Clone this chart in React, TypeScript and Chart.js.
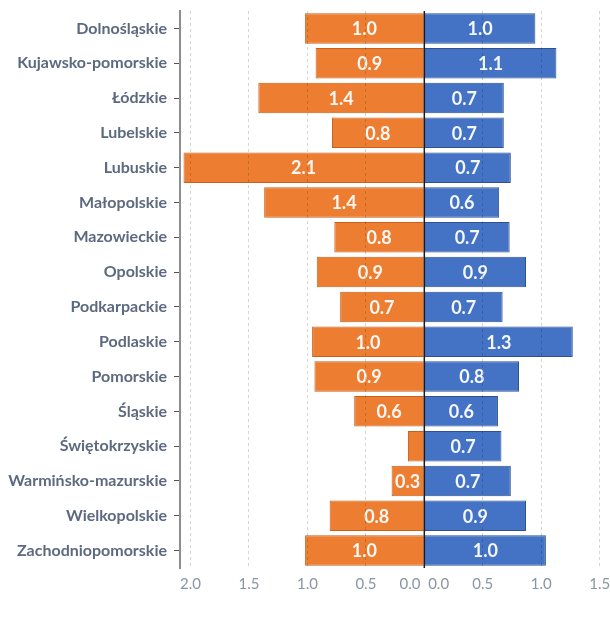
import React, { useEffect, useRef } from 'react';
import { Chart, registerables } from 'chart.js';

Chart.register(...registerables);

const categories = [
  'Dolnośląskie',
  'Kujawsko-pomorskie',
  'Łódzkie',
  'Lubelskie',
  'Lubuskie',
  'Małopolskie',
  'Mazowieckie',
  'Opolskie',
  'Podkarpackie',
  'Podlaskie',
  'Pomorskie',
  'Śląskie',
  'Świętokrzyskie',
  'Warmińsko-mazurskie',
  'Wielkopolskie',
  'Zachodniopomorskie',
];

const orangeValues = [1.02, 0.93, 1.42, 0.79, 2.06, 1.37, 0.77, 0.92, 0.72, 0.96, 0.94, 0.6, 0.14, 0.28, 0.81, 1.02];
const blueValues = [0.95, 1.13, 0.68, 0.68, 0.74, 0.64, 0.73, 0.87, 0.67, 1.27, 0.81, 0.63, 0.66, 0.74, 0.87, 1.04];

const leftTickValues = [0, 0.5, 1, 1.5, 2];
const rightTickValues = [0, 0.5, 1, 1.5];
const leftMax = 2.09;
const rightMax = 1.52;

const FONT = 'Lato';

const fmt = (v: number) => (Math.round(v * 10) / 10).toFixed(1);

const valueLabelPlugin = {
  id: 'valueLabels',
  afterDatasetsDraw(chart: any) {
    const ctx = chart.ctx;
    ctx.save();
    ctx.font = `bold 18px ${FONT}`;
    ctx.fillStyle = 'rgba(255,255,255,0.94)';
    ctx.textAlign = 'center';
    ctx.textBaseline = 'middle';
    chart.data.datasets.forEach((ds: any, di: number) => {
      const meta = chart.getDatasetMeta(di);
      meta.data.forEach((bar: any, i: number) => {
        const text = fmt(ds.data[i]);
        const w = ctx.measureText(text).width;
        const len = Math.abs(bar.x - bar.base);
        if (w + 4 <= len) {
          ctx.fillText(text, (bar.x + bar.base) / 2, bar.y + 1);
        }
      });
    });
    ctx.restore();
  },
  afterDraw(chart: any) {
    const s = chart.scales.xL;
    const x = s.getPixelForValue(0);
    const ctx = chart.ctx;
    ctx.save();
    ctx.strokeStyle = '#1a1a1a';
    ctx.lineWidth = 1.5;
    ctx.beginPath();
    ctx.moveTo(x, chart.chartArea.top);
    ctx.lineTo(x, chart.chartArea.bottom);
    ctx.stroke();
    ctx.restore();
  },
};

const gridColor = (ctx: any) => {
  const v = ctx.tick ? ctx.tick.value : 0;
  if (v === leftMax || v === rightMax) return 'rgba(0,0,0,0)';
  return 'rgba(0,0,0,0.17)';
};

export default function App() {
  const ref = useRef<HTMLCanvasElement | null>(null);

  useEffect(() => {
    if (!ref.current) return;
    const chart = new Chart(ref.current, {
      type: 'bar',
      data: {
        labels: categories,
        datasets: [
          {
            label: 'Left',
            data: orangeValues,
            xAxisID: 'xL',
            backgroundColor: '#ED7D31',
            borderColor: '#C8611C',
            borderWidth: 1,
            grouped: false,
            barPercentage: 0.875,
            categoryPercentage: 1,
          } as any,
          {
            label: 'Right',
            data: blueValues,
            xAxisID: 'xR',
            backgroundColor: '#4472C4',
            borderColor: '#2F528F',
            borderWidth: 1,
            grouped: false,
            barPercentage: 0.875,
            categoryPercentage: 1,
          } as any,
        ],
      },
      options: {
        indexAxis: 'y',
        animation: false,
        responsive: true,
        maintainAspectRatio: false,
        layout: { padding: { top: 11, bottom: 28, left: 0, right: 8 } },
        plugins: {
          legend: { display: false },
          tooltip: { enabled: false },
        },
        scales: {
          y: {
            type: 'category',
            afterFit: (s: any) => {
              s.width = 180;
              s.paddingTop = 0;
              s.paddingBottom = 0;
            },
            grid: {
              display: true,
              offset: false,
              drawOnChartArea: false,
              drawTicks: true,
              tickLength: 6,
              tickColor: '#555',
              tickWidth: 1,
            },
            border: { display: true, color: '#8e8e8e', width: 2 },
            ticks: {
              padding: 7,
              color: '#5c697f',
              font: { family: FONT, size: 16, weight: 'bold' },
            },
          },
          xL: {
            type: 'linear',
            position: 'bottom',
            stack: 'x',
            stackWeight: leftMax,
            reverse: true,
            min: 0,
            max: leftMax,
            afterBuildTicks: (s: any) => {
              s.ticks = [...leftTickValues, leftMax].map((v) => ({ value: v }));
            },
            afterFit: (s: any) => {
              s.height = 28;
            },
            grid: { color: gridColor, drawTicks: false, z: 1 },
            border: { display: false, dash: [3, 3] },
            ticks: {
              align: 'inner',
              autoSkip: false,
              maxRotation: 0,
              padding: 7,
              color: '#8a94a4',
              font: { family: FONT, size: 15 },
              callback: (v: any) => (v === leftMax ? '' : v === 0 ? '0.0 ' : Number(v).toFixed(1)),
            },
          },
          xR: {
            type: 'linear',
            position: 'bottom',
            stack: 'x',
            stackWeight: rightMax,
            min: 0,
            max: rightMax,
            afterBuildTicks: (s: any) => {
              s.ticks = [...rightTickValues, rightMax].map((v) => ({ value: v }));
            },
            afterFit: (s: any) => {
              s.height = 28;
            },
            grid: { color: gridColor, drawTicks: false, z: 1 },
            border: { display: false, dash: [3, 3] },
            ticks: {
              align: 'inner',
              autoSkip: false,
              maxRotation: 0,
              padding: 7,
              color: '#8a94a4',
              font: { family: FONT, size: 15 },
              callback: (v: any) => (v === rightMax ? '' : v === 0 ? ' 0.0' : Number(v).toFixed(1)),
            },
          },
        } as any,
      },
      plugins: [valueLabelPlugin],
    });
    return () => chart.destroy();
  }, []);

  return (
    <div style={{ position: 'fixed', left: 0, top: 0, width: 610, height: 624, background: '#fff' }}>
      <div style={{ position: 'relative', width: 610, height: 624 }}>
        <canvas ref={ref} />
      </div>
    </div>
  );
}
